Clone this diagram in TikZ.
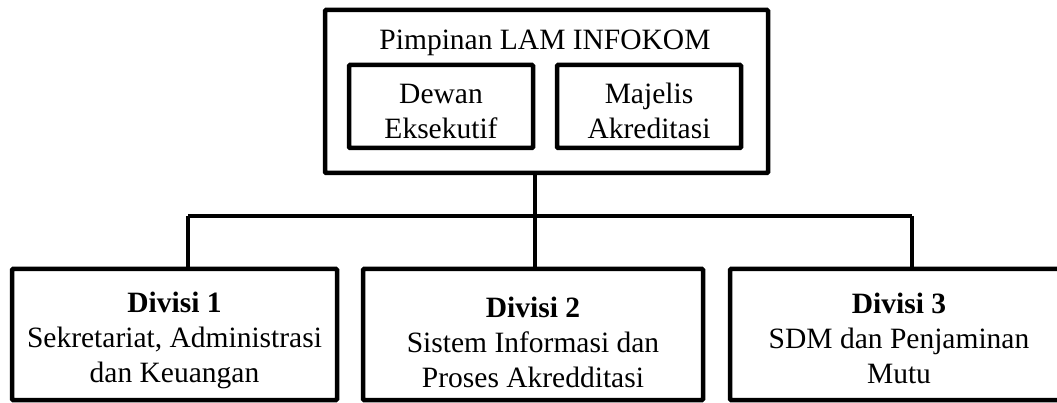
\documentclass[tikz,border=0pt]{standalone}
\usepackage{fontspec}
\setmainfont{Liberation Serif}
\begin{document}
\begin{tikzpicture}[x=1pt,y=-1pt,
  frame/.style={draw=black,line width=4.5pt,rounded corners=1pt,inner sep=0pt},
  txt/.style={align=center,font=\fontsize{29.5}{35}\selectfont,inner sep=0pt},
  conn/.style={draw=black,line width=4.5pt}]
\useasboundingbox (0,0) rectangle (1057,403);
% top box
\node[frame,minimum width=443pt,minimum height=163pt] (top) at (546.5,91.5) {};
\node[txt,anchor=base] (title) at (545,50) {Pimpinan LAM INFOKOM};
\node[frame,minimum width=184pt,minimum height=83pt] (dewan) at (441,106.5) {};
\node[txt] (dewant) at (441,111) {Dewan\\Eksekutif};
\node[frame,minimum width=184pt,minimum height=83pt] (majelis) at (649,106.5) {};
\node[txt] (majelist) at (649,111) {Majelis\\Akreditasi};
% bottom boxes
\node[frame,minimum width=325pt,minimum height=131pt] (d1) at (174.5,334.5) {};
\node[txt] (d1t) at (174.5,340) {\textbf{Divisi 1}\\Sekretariat, Administrasi\\dan Keuangan};
\node[frame,minimum width=340pt,minimum height=131pt] (d2) at (533,334.5) {};
\node[txt] (d2t) at (533,342) {\textbf{Divisi 2}\\Sistem Informasi dan\\Proses Akredditasi};
\node[frame,minimum width=338pt,minimum height=131pt] (d3) at (899,334.5) {};
\node[txt] (d3t) at (899,338) {\textbf{Divisi 3}\\SDM dan Penjaminan\\Mutu};
% connectors
\coordinate (hl) at (188,216);
\coordinate (hm) at (535,216);
\coordinate (hr) at (912,216);
\draw[conn] (top.south -| hm) -- (d2.north -| hm);
\draw[conn] (hl) -- (hr);
\draw[conn] (hl) -- (d1.north -| hl);
\draw[conn] (hr) -- (d3.north -| hr);
\end{tikzpicture}
\end{document}
